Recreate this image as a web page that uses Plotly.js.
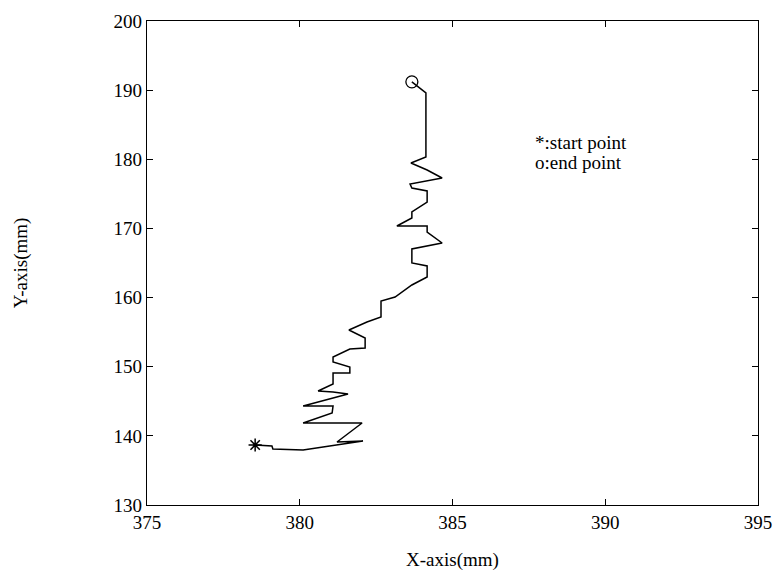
<!DOCTYPE html>
<html>
<head>
<meta charset="utf-8">
<script src="https://cdn.plot.ly/plotly-3.0.1.min.js"></script>
<style>html,body{margin:0;padding:0;background:#fff;}#chart{width:779px;height:576px;}</style>
</head>
<body>
<div id="chart"></div>
<script>
// Trajectory (mm), from start to end
const xPath = [378.54, 379.09, 379.12, 380.11, 382.07, 381.22, 382.04, 380.11, 381.06, 381.09,
               380.11, 381.58, 381.09, 380.60, 381.09, 381.09, 381.64, 381.64, 381.09, 381.09,
               381.64, 382.14, 382.14, 381.61, 382.20, 382.66, 382.66, 383.12, 383.67, 384.17,
               384.17, 383.67, 383.67, 384.66, 384.17, 384.17, 383.18, 383.67, 383.67, 384.17,
               384.17, 383.67, 383.61, 384.66, 384.17, 383.64, 384.13, 384.13, 383.67];
const yPath = [138.68, 138.53, 138.10, 137.95, 139.26, 139.11, 141.86, 141.86, 143.31, 144.32,
               144.32, 146.05, 146.34, 146.49, 147.50, 149.09, 149.09, 149.96, 150.68, 151.41,
               152.56, 152.71, 154.15, 155.31, 156.47, 157.19, 159.50, 160.08, 161.82, 162.98,
               164.57, 165.00, 167.03, 167.89, 169.48, 170.35, 170.35, 171.51, 172.38, 173.82,
               175.42, 175.85, 176.43, 177.29, 178.45, 179.46, 180.33, 189.59, 191.20];
const xTicks = [375, 380, 385, 390, 395];
const yTicks = [130, 140, 150, 160, 170, 180, 190, 200];
const legendLines = ["*:start point", "o:end point"];

const font = {family: "Liberation Serif, Times New Roman, serif", size: 19, color: "#000"};

const traces = [
  {x: xPath, y: yPath, mode: "lines", line: {color: "#000", width: 1.5}, hoverinfo: "skip"},
  {x: [xPath[0]], y: [yPath[0]], mode: "markers",
   marker: {symbol: "asterisk-open", size: 11, color: "#000", line: {color: "#000", width: 1.5}}},
  {x: [xPath[xPath.length - 1]], y: [yPath[yPath.length - 1]], mode: "markers",
   marker: {symbol: "circle-open", size: 12, color: "#000", line: {color: "#000", width: 1.3}}}
];

const axisCommon = {
  showgrid: false, zeroline: false, showline: true, linecolor: "#000", linewidth: 1.2,
  mirror: "ticks", ticks: "inside", ticklen: 6, tickwidth: 1, tickcolor: "#000",
  tickfont: font
};

const layout = {
  width: 779, height: 576,
  margin: {l: 147, r: 21, t: 21, b: 71},
  paper_bgcolor: "#fff", plot_bgcolor: "#fff",
  showlegend: false,
  font: font,
  xaxis: Object.assign({}, axisCommon, {
    range: [375, 395], tickvals: xTicks, ticktext: xTicks.map(String),
    title: {text: "X-axis(mm)", font: font, standoff: 20}
  }),
  yaxis: Object.assign({}, axisCommon, {
    range: [130, 200], tickvals: yTicks, ticktext: yTicks.map(String),
    title: {text: "Y-axis(mm)", font: font, standoff: 80}
  }),
  annotations: [
    {xref: "paper", yref: "paper", x: 0.632, y: 0.750, xanchor: "left", yanchor: "middle",
     text: legendLines[0], showarrow: false, font: font},
    {xref: "paper", yref: "paper", x: 0.632, y: 0.707, xanchor: "left", yanchor: "middle",
     text: legendLines[1], showarrow: false, font: font}
  ]
};

Plotly.newPlot("chart", traces, layout, {staticPlot: true, displayModeBar: false});
</script>
</body>
</html>
